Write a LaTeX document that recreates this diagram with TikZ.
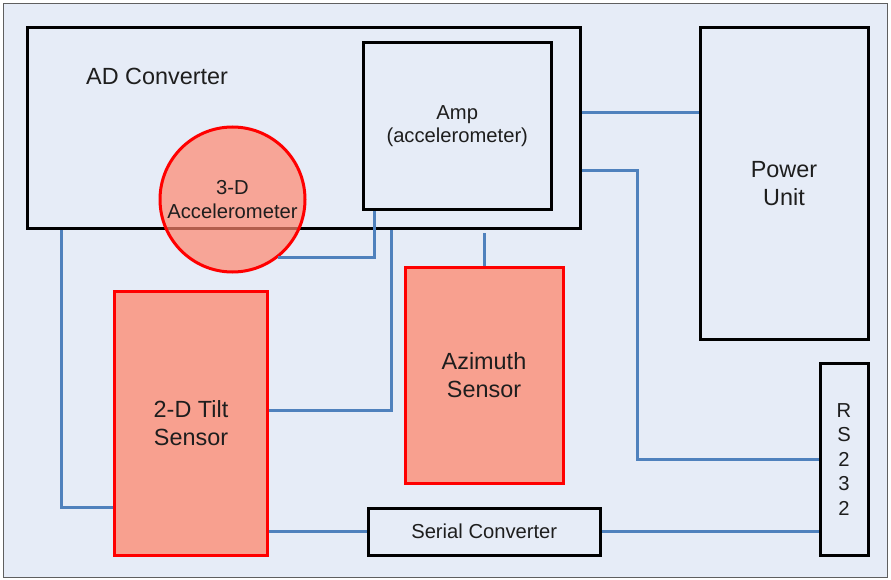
\documentclass[tikz,border=0pt]{standalone}
\usepackage{fontspec}
\setmainfont{Liberation Sans}
\usetikzlibrary{calc}
\definecolor{paper}{RGB}{230,236,247}
\definecolor{frameline}{RGB}{95,95,95}
\definecolor{sensorfill}{RGB}{248,160,143}
\definecolor{accfill}{RGB}{255,135,111}
\definecolor{wirecol}{RGB}{79,129,189}
\definecolor{inkcol}{RGB}{30,30,30}
\newcommand{\bigtxt}{\fontsize{23.4}{28}\selectfont}
\newcommand{\smalltxt}{\fontsize{20.2}{23.6}\selectfont}
\tikzset{
  unitbox/.style={draw=black, line width=3pt, rectangle, inner sep=0pt,
    text=inkcol, align=center},
  sensorbox/.style={draw=red, line width=3pt, rectangle, fill=sensorfill,
    inner sep=0pt, text=inkcol, align=center},
  wire/.style={draw=wirecol, line width=3pt},
}
\begin{document}
\begin{tikzpicture}[x=1pt, y=-1pt]
  \useasboundingbox (0,0) rectangle (891,580);
  % page background and frame
  \draw[frameline, line width=1.5pt, fill=paper] (3.5,3.5) rectangle (887.5,577.5);

  % units
  \node[unitbox, minimum width=552.5pt, minimum height=200.5pt] (AD) at (303.75,128.25) {};
  \node[text=inkcol, anchor=base west, inner sep=0pt, font=\bigtxt] (ADlabel) at (86,85) {AD Converter};
  \node[unitbox, minimum width=187.5pt, minimum height=167pt, font=\smalltxt] (Amp) at (457.25,126) {Amp\\(accelerometer)};
  \node[unitbox, minimum width=168pt, minimum height=311pt, font=\bigtxt] (Power) at (784,183.5) {Power\\Unit};
  \node[unitbox, minimum width=48pt, minimum height=191.5pt, font=\fontsize{20.2}{24.5}\selectfont] (RS) at (844,459.25) {R\\S\\2\\3\\2};
  \node[unitbox, minimum width=231.5pt, minimum height=47.5pt, font=\smalltxt] (Ser) at (484.25,531.75) {Serial Converter};

  % sensors
  \node[sensorbox, minimum width=153pt, minimum height=264pt, font=\bigtxt] (Tilt) at (191,423.5) {2-D Tilt\\Sensor};
  \node[sensorbox, minimum width=158pt, minimum height=215.5pt, font=\bigtxt] (Az) at (484,375.25) {Azimuth\\Sensor};
  \node[circle, draw=red, line width=3pt, fill=accfill, fill opacity=0.7, text opacity=1,
    minimum size=145pt, inner sep=0pt, text=inkcol, align=center, font=\smalltxt] (Acc) at (232.5,199.5) {3-D\\Accelerometer};

  % wiring
  \draw[wire] (AD.east |- 0,113) -- (Power.west |- 0,113);
  \draw[wire] (AD.east |- 0,171) -- (637.5,171) |- (RS.west |- 0,459);
  \draw[wire] (AD.south -| 61.5,0) |- (Tilt.west |- 0,507.5);
  \draw[wire] (Acc.-52) -| (Amp.south -| 374,0);
  \draw[wire] (AD.south -| 391.5,0) |- (Tilt.east |- 0,410);
  \draw[wire, shorten <=3pt] (AD.south -| 484,0) -- (Az.north -| 484,0);
  \draw[wire] (Tilt.east |- 0,531) -- (Ser.west |- 0,531);
  \draw[wire] (Ser.east |- 0,531.5) -- (RS.west |- 0,531.5);
\end{tikzpicture}
\end{document}
